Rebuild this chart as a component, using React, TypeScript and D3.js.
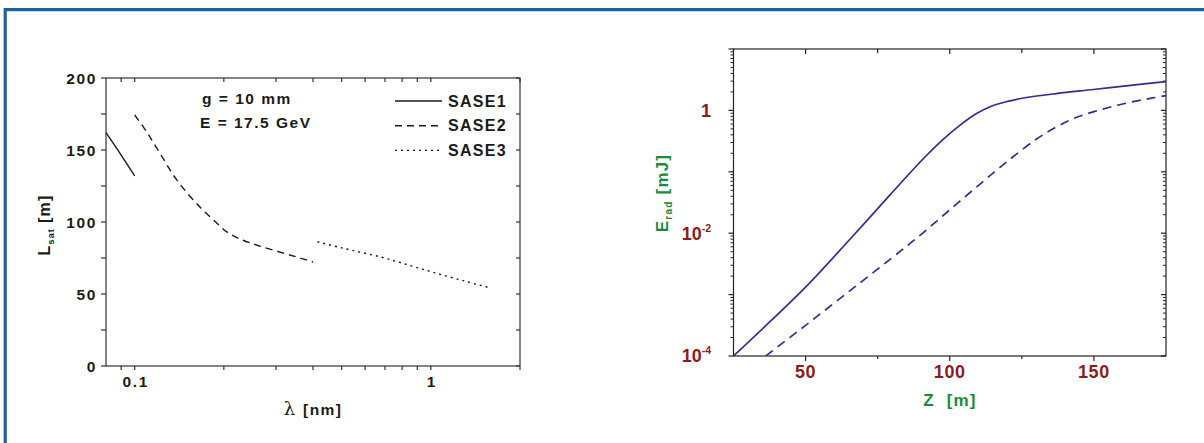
import React from "react";
import * as d3 from "d3";

// Saturation length vs. wavelength for the three undulators
const sase1: [number, number][] = [
  [0.08, 162], [0.09, 146.5], [0.1, 132],
];
const sase2: [number, number][] = [
  [0.1, 174.3], [0.1098, 162.5], [0.1215, 148], [0.1387, 129.2], [0.166, 110.4],
  [0.1893, 99.3], [0.2047, 93.1], [0.2266, 88.2], [0.2647, 83.3], [0.3614, 75], [0.4, 72.2],
];
const sase3: [number, number][] = [
  [0.414, 86.3], [0.5, 82], [0.674, 75.8], [0.85, 69.8], [1.045, 64.4], [1.3, 59], [1.6, 54],
];
const legendNames = ["SASE1", "SASE2", "SASE3"];
const lsatTicks = [0, 50, 100, 150, 200];
const lambdaLabels = [0.1, 1];

// Radiated energy vs. undulator length
const eradSolid: [number, number][] = [
  [25, 1.0e-4], [37, 3.39e-4], [50, 1.32e-3], [65, 7.6e-3], [75, 0.0251], [85, 0.0832],
  [92, 0.186], [98, 0.347], [103.6, 0.575], [109, 0.871], [114, 1.15], [120, 1.4],
  [125.5, 1.59], [137, 1.88], [149.8, 2.19], [162, 2.54], [175, 2.95],
];
const eradDashed: [number, number][] = [
  [36.2, 1.0e-4], [50, 3.16e-4], [65, 1.12e-3], [80, 3.98e-3], [90, 9.5e-3], [100, 0.024],
  [110, 0.0603], [120, 0.148], [130, 0.339], [137, 0.537], [143, 0.741], [150, 0.955],
  [157, 1.175], [164, 1.4], [170, 1.58], [175, 1.74],
];
const zTicks = [50, 100, 150];
const zMinorTicks = [75, 125];
const eradLabels: { v: number; base: string; exp: string }[] = [
  { v: 1, base: "1", exp: "" },
  { v: 1e-2, base: "10", exp: "-2" },
  { v: 1e-4, base: "10", exp: "-4" },
];

const SANS = "'Liberation Sans', Arial, Helvetica, sans-serif";
const DARK_RED = "#8e1b1b";
const GREEN = "#1d8a3a";
const NAVY = "#2f2f8f";
const INK = "#1a1a1a";
const FRAME = "#1d62a0";

export default function App() {
  // ---------- left panel ----------
  const xL = d3.scaleLog().domain([0.08, 2]).range([106, 520]);
  const yL = d3.scaleLinear().domain([0, 200]).range([366, 78]);
  const lineL = d3
    .line<[number, number]>()
    .x((d) => xL(d[0]))
    .y((d) => yL(d[1]))
    .curve(d3.curveCatmullRom.alpha(0.5));

  const lambdaMinor = [0.09, 0.2, 0.3, 0.4, 0.5, 0.6, 0.7, 0.8, 0.9, 2];
  const lsatMinor = d3.range(25, 200, 50);

  // ---------- right panel ----------
  const xR = d3.scaleLinear().domain([25, 175]).range([733.5, 1166]);
  const yR = d3.scaleLog().domain([1e-4, 10]).range([356, 49]);
  const lineR = d3
    .line<[number, number]>()
    .x((d) => xR(d[0]))
    .y((d) => yR(d[1]))
    .curve(d3.curveCatmullRom.alpha(0.5));

  const decades = [1e-4, 1e-3, 1e-2, 1e-1, 1, 10];
  const eMinor: number[] = [];
  decades.slice(0, -1).forEach((dcd) => {
    for (let k = 2; k <= 9; k++) eMinor.push(dcd * k);
  });

  const [lx0, lx1] = xL.range();
  const [ly0, ly1] = yL.range();
  const [rx0, rx1] = xR.range();
  const [ry0, ry1] = yR.range();

  const legendStyles = ["none", "7,5", "2,4"];

  return (
    <svg
      width={1204}
      height={443}
      style={{ position: "absolute", left: 0, top: 0, display: "block", background: "#fff" }}
      fontFamily={SANS}
    >
      <rect x={0} y={0} width={1204} height={443} fill="#fff" />
      {/* frame */}
      <path d="M5.2,443 V9.6 H1204" fill="none" stroke={FRAME} strokeWidth={3.2} />

      {/* ===== Left panel: L_sat vs lambda ===== */}
      <g stroke="#333" strokeWidth={1.2} fill="none">
        <rect x={lx0} y={ly1} width={lx1 - lx0} height={ly0 - ly1} />
        {/* bottom ticks (outward) and top ticks (inward) */}
        {[...lambdaLabels, ...lambdaMinor].map((v) => (
          <g key={"lx" + v}>
            <line x1={xL(v)} x2={xL(v)} y1={ly0} y2={ly0 + 4} />
            <line x1={xL(v)} x2={xL(v)} y1={ly1} y2={ly1 + 4} />
          </g>
        ))}
        {/* left ticks (outward) and right ticks (inward) */}
        {[...lsatTicks, ...lsatMinor].map((v) => (
          <g key={"ly" + v}>
            <line x1={lx0} x2={lx0 - 5} y1={yL(v)} y2={yL(v)} />
            <line x1={lx1} x2={lx1 - 4} y1={yL(v)} y2={yL(v)} />
          </g>
        ))}
      </g>
      <g fontWeight="bold" fontSize={15.5} fill={INK} letterSpacing={1.6}>
        {lsatTicks.map((v) => (
          <text key={"lt" + v} x={97} y={yL(v)} dy="0.36em" textAnchor="end">
            {v}
          </text>
        ))}
        {lambdaLabels.map((v) => (
          <text key={"xt" + v} x={xL(v) + 1} y={387} textAnchor="middle">
            {v}
          </text>
        ))}
      </g>
      {/* axis titles */}
      <text x={313} y={415} fill={INK} textAnchor="middle">
        <tspan fontFamily="'DejaVu Serif', 'Liberation Serif', serif" fontSize={18}>
          λ
        </tspan>
        <tspan fontWeight="bold" fontSize={15.5} letterSpacing={1.4} dx={8}>
          [nm]
        </tspan>
      </text>
      <text
        transform="translate(50,225) rotate(-90)"
        textAnchor="middle"
        fill={INK}
        fontWeight="bold"
        fontSize={16}
        letterSpacing={1.2}
      >
        L
        <tspan fontSize={9} dy={4}>
          sat
        </tspan>
        <tspan dy={-4} dx={5}>
          [m]
        </tspan>
      </text>
      {/* parameters */}
      <g fontWeight="bold" fontSize={15.5} fill={INK} letterSpacing={1.5}>
        <text x={202} y={104} style={{ whiteSpace: "pre" }}>
          g = 10 mm
        </text>
        <text x={200} y={128}>
          E = 17.5 GeV
        </text>
      </g>
      {/* data */}
      <g fill="none" stroke={INK} strokeWidth={1.4}>
        <path d={lineL(sase1) ?? ""} />
        <path d={lineL(sase2) ?? ""} strokeDasharray="7,5" />
        <path d={lineL(sase3) ?? ""} strokeDasharray="2,4" />
      </g>
      {/* legend */}
      {legendNames.map((name, i) => {
        const cy = 101 + i * 24.7;
        return (
          <g key={name}>
            <line
              x1={395}
              x2={442}
              y1={cy}
              y2={cy}
              stroke={INK}
              strokeWidth={1.4}
              strokeDasharray={legendStyles[i] === "none" ? undefined : legendStyles[i]}
            />
            <text
              x={448}
              y={cy}
              dy="0.36em"
              fontWeight="bold"
              fontSize={16}
              letterSpacing={1.3}
              fill={INK}
            >
              {name}
            </text>
          </g>
        );
      })}

      {/* ===== Right panel: E_rad vs z ===== */}
      <defs>
        <clipPath id="rclip">
          <rect x={rx0} y={ry1} width={rx1 - rx0} height={ry0 - ry1} />
        </clipPath>
      </defs>
      <g stroke="#222" strokeWidth={1.2} fill="none">
        <rect x={rx0} y={ry1} width={rx1 - rx0} height={ry0 - ry1} />
        {zTicks.map((v) => (
          <g key={"zt" + v}>
            <line x1={xR(v)} x2={xR(v)} y1={ry0} y2={ry0 + 5} />
            <line x1={xR(v)} x2={xR(v)} y1={ry1} y2={ry1 + 5} />
          </g>
        ))}
        {zMinorTicks.map((v) => (
          <g key={"zm" + v}>
            <line x1={xR(v)} x2={xR(v)} y1={ry0} y2={ry0 + 3} />
            <line x1={xR(v)} x2={xR(v)} y1={ry1} y2={ry1 + 4} />
          </g>
        ))}
        {decades.map((v) => (
          <g key={"ed" + v}>
            <line x1={rx0} x2={rx0 - 5} y1={yR(v)} y2={yR(v)} />
            <line x1={rx1} x2={rx1 - 5} y1={yR(v)} y2={yR(v)} />
          </g>
        ))}
        {eMinor.map((v) => (
          <g key={"em" + v}>
            <line x1={rx0} x2={rx0 - 3} y1={yR(v)} y2={yR(v)} strokeWidth={1} />
            <line x1={rx1} x2={rx1 - 3} y1={yR(v)} y2={yR(v)} strokeWidth={1} />
          </g>
        ))}
      </g>
      <g fontWeight="bold" fill={DARK_RED}>
        {zTicks.map((v) => (
          <text key={"zl" + v} x={xR(v)} y={378} textAnchor="middle" fontSize={18} letterSpacing={0.6}>
            {v}
          </text>
        ))}
        {eradLabels.map((l) => (
          <text key={"el" + l.v} x={711} y={yR(l.v)} dy="0.36em" textAnchor="end" fontSize={18}>
            {l.base}
            {l.exp && (
              <tspan fontSize={10.5} dy={-8}>
                {l.exp}
              </tspan>
            )}
          </text>
        ))}
      </g>
      <text
        x={950}
        y={406}
        textAnchor="middle"
        fill={GREEN}
        fontWeight="bold"
        fontSize={17}
        letterSpacing={1.2}
        style={{ whiteSpace: "pre" }}
      >
        {"Z  [m]"}
      </text>
      <text
        transform="translate(668,193) rotate(-90)"
        textAnchor="middle"
        fill={GREEN}
        fontWeight="bold"
        fontSize={17}
        letterSpacing={1.2}
      >
        E
        <tspan fontSize={10} dy={4}>
          rad
        </tspan>
        <tspan dy={-4} dx={6}>
          [mJ]
        </tspan>
      </text>
      <g clipPath="url(#rclip)" fill="none" stroke={NAVY} strokeWidth={1.7}>
        <path d={lineR(eradSolid) ?? ""} />
        <path d={lineR(eradDashed) ?? ""} strokeDasharray="9,6" />
      </g>
    </svg>
  );
}
